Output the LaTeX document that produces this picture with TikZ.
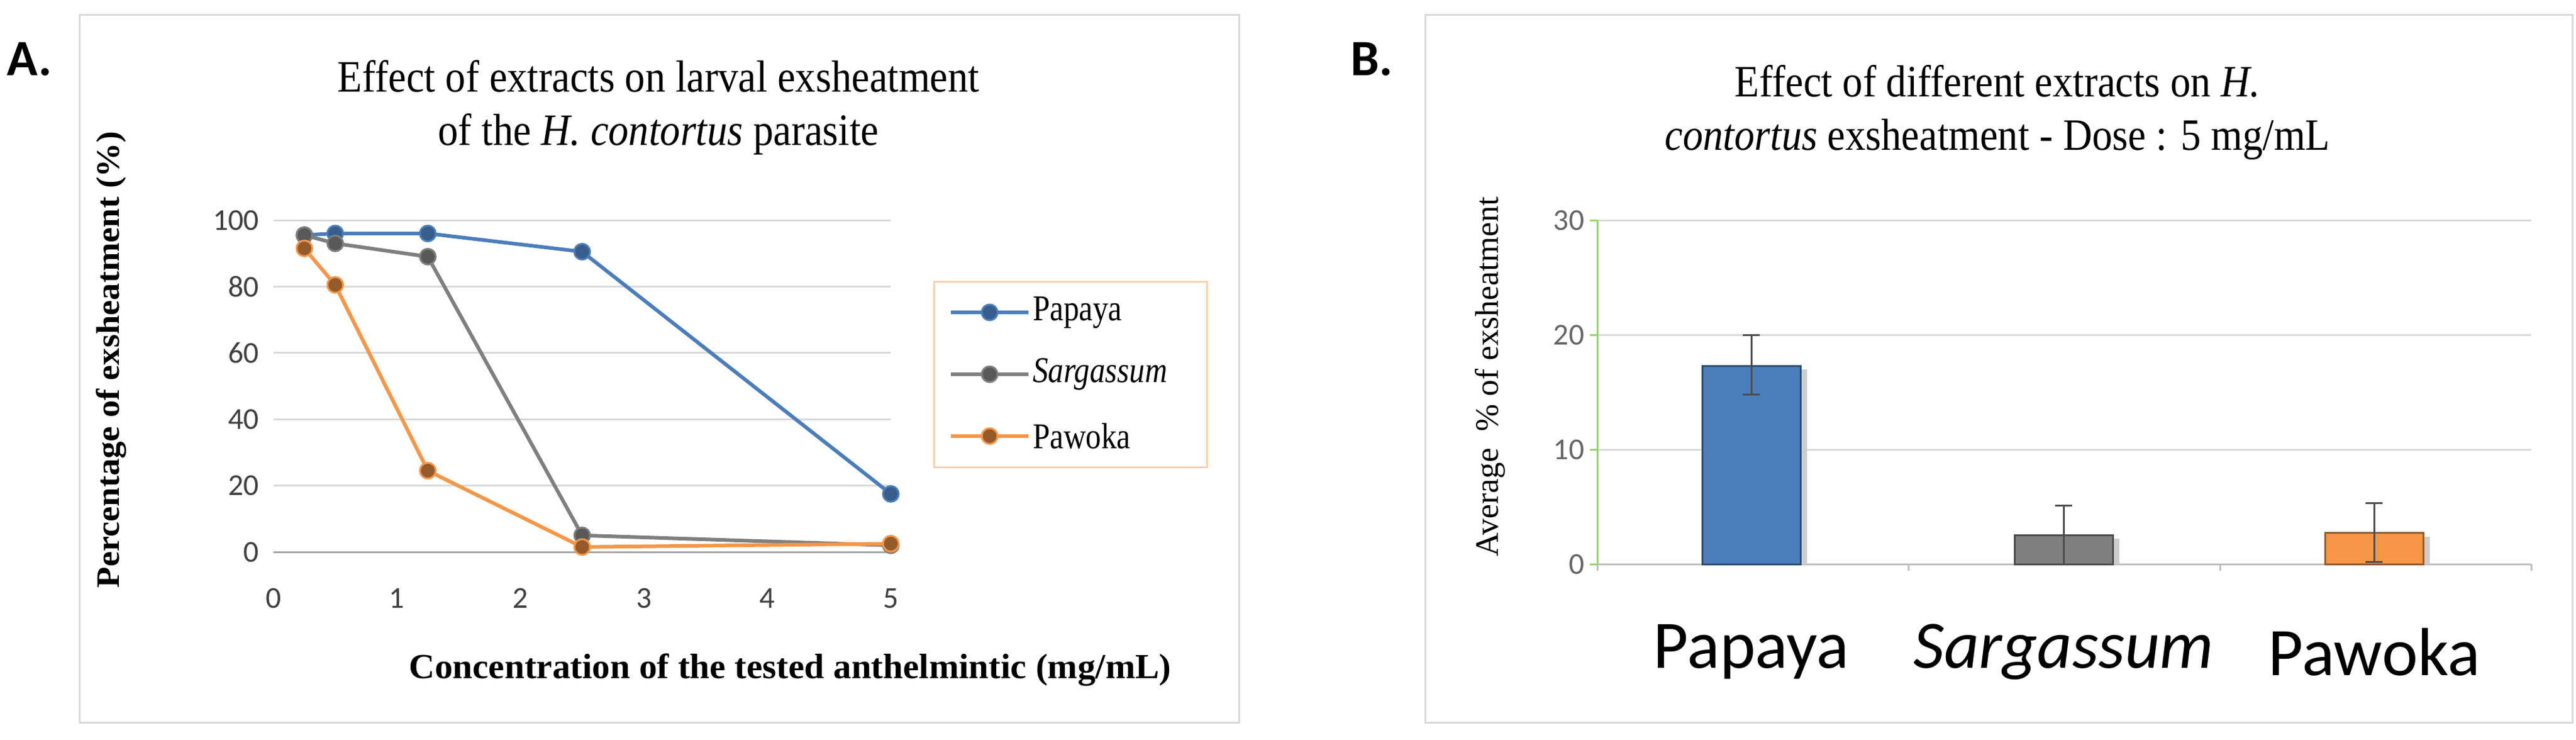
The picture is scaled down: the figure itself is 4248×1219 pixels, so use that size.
\documentclass[tikz,border=0pt]{standalone}
\usepackage{fontspec}
\setmainfont{Liberation Serif}
\newfontfamily\carl{Carlito}
\definecolor{pblue}{HTML}{4A7EBB}
\definecolor{pgrey}{HTML}{7F7F7F}
\definecolor{porange}{HTML}{F79646}
\definecolor{gridc}{HTML}{D9D9D9}
\definecolor{framec}{HTML}{D9D9D9}
\tikzset{
 frame/.style={draw=framec,line width=3pt},
 gridl/.style={draw=gridc,line width=3pt},
 ser/.style={line width=6pt,line join=round},
 mk/.style={circle,inner sep=0pt,minimum size=26pt,line width=3pt},
 tick/.style={font=\carl\fontsize{50}{50}\selectfont,text=black!75},
 bar/.style={line width=3pt},
 err/.style={draw=black!70,line width=3pt},
}
\begin{document}
\begin{tikzpicture}[x=1pt,y=-1pt]
\useasboundingbox (0,0) rectangle (4248,1219);
\fill[white] (0,0) rectangle (4248,1219);
% ---------- Panel A
\draw[frame] (131,24) rectangle (2043,1191);
\node[font=\carl\bfseries\fontsize{84}{84}\selectfont,anchor=west] (la) at (8,98) {A.};
\node[font=\fontsize{74}{74}\selectfont,xscale=0.9,align=center] (ta) at (1086,177) {Effect of extracts on larval exsheatment\\[14pt]of the \textit{H. contortus} parasite};
\node[font=\bfseries\fontsize{54}{54}\selectfont,rotate=90,xscale=1.05] (ya) at (183,593) {Percentage of exsheatment (\%)};
\node[font=\bfseries\fontsize{58}{58}\selectfont,xscale=1.02] (xa) at (1303,1104) {Concentration of the tested anthelmintic (mg/mL)};
\begin{scope}[shift={(451,910)},x=203.6pt,y=5.47pt]
 \foreach \v in {20,40,60,80,100} \draw[gridl] (0,\v) -- (5,\v);
 \draw[draw=black!35,line width=3pt] (0,0) -- (5,0);
 \foreach \v in {0,20,40,60,80,100} \node[tick,anchor=east] at (-0.1,\v) {\v};
 \foreach \c in {0,...,5} \node[tick] at (\c,-14) {\c};
 \foreach \n/\c/\v in {1/0.25/95.5,2/0.5/96,3/1.25/96,4/2.5/90.5,5/5/17.5}
   \coordinate (b\n) at (\c,\v);
 \foreach \n/\c/\v in {1/0.25/95.5,2/0.5/93,3/1.25/89,4/2.5/5,5/5/2}
   \coordinate (g\n) at (\c,\v);
 \foreach \n/\c/\v in {1/0.25/91.5,2/0.5/80.5,3/1.25/24.5,4/2.5/1.5,5/5/2.5}
   \coordinate (o\n) at (\c,\v);
\end{scope}
\draw[ser,pblue] (b1)--(b2)--(b3)--(b4)--(b5);
\draw[ser,pgrey] (g1)--(g2)--(g3)--(g4)--(g5);
\draw[ser,porange] (o1)--(o2)--(o3)--(o4)--(o5);
\foreach \i in {1,...,5} {
 \node[mk,fill=pblue!75!black,draw=pblue] at (b\i) {};
 \node[mk,fill=black!65,draw=pgrey] at (g\i) {};
 \node[mk,fill=porange!60!black,draw=porange] at (o\i) {};
}
% legend
\draw[draw=porange!45,line width=3pt] (1540,464) rectangle (1990,770);
\foreach \y/\col/\fc/\t in {515/pblue/pblue!75!black/Papaya,617/pgrey/black!65/\textit{Sargassum},719/porange/porange!60!black/Pawoka}{
 \draw[ser,\col] (1568,\y) -- (1696,\y);
 \node[mk,fill=\fc,draw=\col] at (1632,\y) {};
 \node[anchor=west,font=\fontsize{60}{60}\selectfont,xscale=0.85] at (1700,\y) {\t};
}
% ---------- Panel B
\draw[frame] (2350,24) rectangle (4242,1191);
\node[font=\carl\bfseries\fontsize{84}{84}\selectfont] (lb) at (2262,98) {B.};
\node[font=\fontsize{74}{74}\selectfont,xscale=0.9,align=center] (tb) at (3294,185) {Effect of different extracts on \textit{H.}\\[14pt]\textit{contortus} exsheatment - Dose : 5 mg/mL};
\node[font=\fontsize{54}{54}\selectfont,rotate=90] (yb) at (2457,621) {Average\ \ \% of exsheatment};
\begin{scope}[shift={(2634,930)},y=18.9pt]
 \foreach \v in {10,20,30} \draw[gridl] (0,\v) -- (1540,\v);
 \draw[draw=black!25,line width=3pt] (0,0) -- (1540,0);
 \foreach \xx in {0,513,1027,1540} \draw[draw=black!25,line width=3pt] (\xx,0) -- (\xx,-0.6);
 \draw[draw=green!50!olive!60,line width=3pt] (0,0) -- (0,30);
 \foreach \v in {0,10,20,30} {\draw[draw=green!50!olive!60,line width=3pt] (-12,\v) -- (0,\v);
   \node[tick,anchor=east,text=black!60] at (-18,\v) {\v};}
 \foreach \n/\cx/\v/\lo/\hi/\fc in {p/254/17.3/14.8/20/pblue,s/769/2.5/0/5.1/pgrey,k/1281/2.7/0.2/5.3/porange}{
   \fill[black!20] (\cx-70,0) rectangle (\cx+92,\v-0.3);
   \draw[bar,fill=\fc,draw=\fc!60!black] (\cx-81,0) rectangle (\cx+81,\v);
   \coordinate (\n lo) at (\cx,\lo); \coordinate (\n hi) at (\cx,\hi);
   \draw[err] (\n lo) -- (\n hi);
   \draw[err] ([xshift=-14pt]\n lo) -- ([xshift=14pt]\n lo);
   \draw[err] ([xshift=-14pt]\n hi) -- ([xshift=14pt]\n hi);
 }
\end{scope}
\node[font=\carl\fontsize{112}{112}\selectfont] (cp) at (2888,1075) {Papaya};
\node[font=\carl\itshape\fontsize{112}{112}\selectfont] (cs) at (3403,1075) {Sargassum};
\node[font=\carl\fontsize{112}{112}\selectfont] (ck) at (3915,1075) {Pawoka};
\end{tikzpicture}
\end{document}
